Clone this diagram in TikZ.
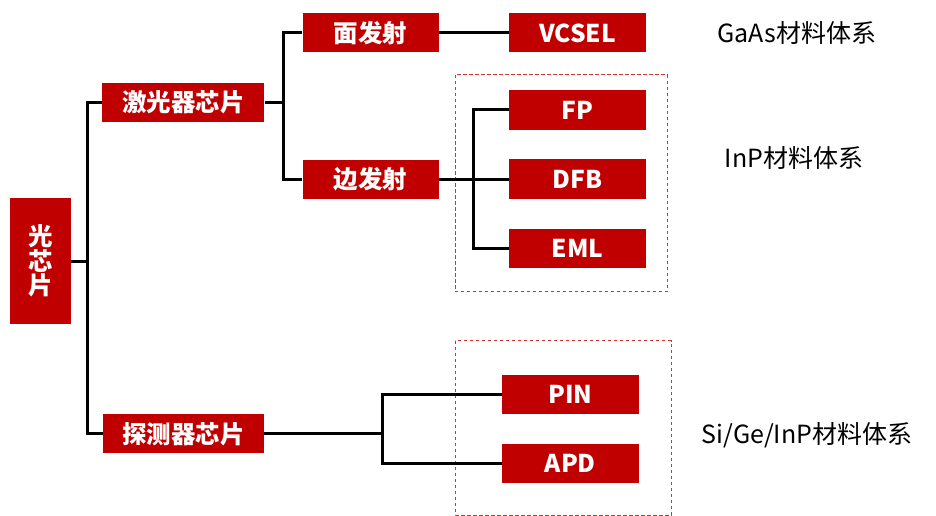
\documentclass[tikz,border=0pt]{standalone}
\usepackage{fontspec}
\setmainfont{Noto Sans CJK SC}
\definecolor{boxred}{HTML}{C00000}
\definecolor{dashred}{HTML}{CC3333}
\tikzset{
  redbox/.style={fill=boxred, draw=none, text=white, inner sep=0pt,
    font=\fontsize{24.5}{26}\selectfont\bfseries, anchor=center},
  conn/.style={line width=3pt, black, line join=miter},
  grp/.style={draw=dashred, line width=1pt, dash pattern=on 3.5pt off 2.5pt},
  mat/.style={font=\fontsize{25}{28}\selectfont, text=black, inner sep=0pt}
}
\begin{document}
\begin{tikzpicture}[x=1pt,y=-1pt]
\useasboundingbox (0,0) rectangle (936,516);
% dashed groups
\draw[grp] (455.3,75) rectangle (667.3,291.7);
\draw[grp] (455.3,340.7) rectangle (671,515);
% nodes
\node[redbox, minimum width=60.7pt, minimum height=126pt, align=center,
  font=\fontsize{24.5}{24.5}\selectfont\bfseries] (g) at (40.3,261) {光\\芯\\片};
\node[redbox, minimum width=162pt, minimum height=39pt] (laser) at (183.3,102.3) {激光器芯片};
\node[redbox, minimum width=161pt, minimum height=39pt] (det) at (183.7,433.8) {探测器芯片};
\node[redbox, minimum width=136pt, minimum height=39pt] (face) at (370.5,33) {面发射};
\node[redbox, minimum width=136pt, minimum height=39pt] (edge) at (370.5,179) {边发射};
\node[redbox, minimum width=137pt, minimum height=39pt] (vcsel) at (577.5,33) {VCSEL};
\node[redbox, minimum width=137pt, minimum height=39.5pt] (fp) at (577.5,110) {FP};
\node[redbox, minimum width=137pt, minimum height=39.5pt] (dfb) at (577.5,179) {DFB};
\node[redbox, minimum width=137pt, minimum height=39.5pt] (eml) at (577.5,248.5) {EML};
\node[redbox, minimum width=136.7pt, minimum height=39.3pt] (pin) at (570.3,394.3) {PIN};
\node[redbox, minimum width=136.7pt, minimum height=39.3pt] (apd) at (570.3,463.7) {APD};
% labels
\node[mat] (l1) at (797,33) {GaAs材料体系};
\node[mat] (l2) at (794,158) {InP材料体系};
\node[mat] (l3) at (807,435) {Si/Ge/InP材料体系};
% junction coordinates
\coordinate (tr) at (87,0);
\coordinate (b1) at (283,0);
\coordinate (b2) at (473.3,0);
\coordinate (b3) at (382.7,0);
% connectors
\draw[conn] (laser.west) -- (laser.west -| tr) -- (det.west -| tr) -- (det.west);
\draw[conn] (g.east) -- (g.east -| tr);
\draw[conn] (face.west) -- (face.west -| b1) -- (edge.west -| b1) -- (edge.west);
\draw[conn] (laser.east) -- (laser.east -| b1);
\draw[conn] (face.east) -- (vcsel.west);
\draw[conn] (fp.west) -- (fp.west -| b2) -- (eml.west -| b2) -- (eml.west);
\draw[conn] (edge.east) -- (dfb.west);
\draw[conn] (pin.west) -- (pin.west -| b3) -- (apd.west -| b3) -- (apd.west);
\draw[conn] (det.east) -- (det.east -| b3);
\end{tikzpicture}
\end{document}
